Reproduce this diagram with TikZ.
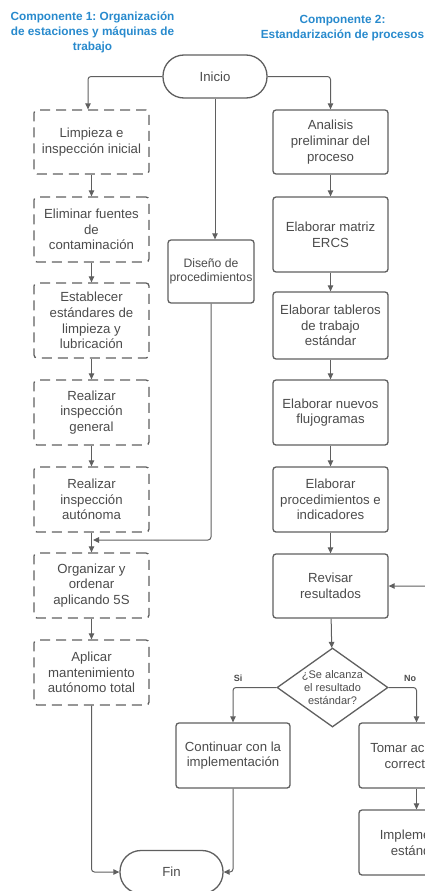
\documentclass[tikz,border=0pt]{standalone}
\usepackage{fontspec}
\setmainfont{Liberation Sans}
\usetikzlibrary{arrows.meta,shapes.geometric}
\definecolor{lin}{RGB}{95,95,95}
\definecolor{txt}{RGB}{75,75,75}
\definecolor{ttl}{RGB}{40,138,205}
\frenchspacing
\begin{document}
\begin{tikzpicture}[x=1pt,y=-1pt,
  base/.style={draw=lin, line width=1.3pt, text=txt, align=center, inner sep=2pt,
    font=\fontsize{13.2}{15.7}\selectfont},
  solidbox/.style={base, rectangle, rounded corners=3pt},
  dashbox/.style={base, rectangle, rounded corners=3pt, dash pattern=on 10pt off 6pt,
    minimum width=115pt},
  term/.style={base, rectangle, rounded corners=21pt, minimum width=104pt, minimum height=43pt},
  dec/.style={base, diamond, aspect=1.4, inner sep=0pt, minimum width=111pt, minimum height=79pt,
    font=\fontsize{11}{13}\selectfont},
  arr/.style={draw=lin, line width=1pt, rounded corners=3pt, -{Triangle[length=6pt,width=5.5pt]}},
  title/.style={text=ttl, align=center, font=\fontsize{11.8}{15}\selectfont\bfseries},
  lab/.style={text=txt, font=\fontsize{9}{10}\selectfont\bfseries}
]
\useasboundingbox (0,0) rectangle (425,891);
\clip (0,0) rectangle (425,891);

\node[title] (t1) at (92.5,32) {Componente 1: Organización\\de estaciones y máquinas de\\trabajo};
\node[title] (t2) at (342.5,28.5) {Componente 2:\\Estandarización de procesos};

\node[term] (ini) at (215,76.5) {Inicio};

\node[dashbox, minimum height=64pt] (b1) at (91.5,142) {Limpieza e\\inspección inicial};
\node[dashbox, minimum height=65pt] (b2) at (91.5,229.5) {Eliminar fuentes\\de\\contaminación};
\node[dashbox, minimum height=75pt] (b3) at (91.5,320.5) {Establecer\\estándares de\\limpieza y\\lubricación};
\node[dashbox, minimum height=65pt] (b4) at (91.5,412.5) {Realizar\\inspección\\general};
\node[dashbox, minimum height=65pt] (b5) at (91.5,499.5) {Realizar\\inspección\\autónoma};
\node[dashbox, minimum height=65pt] (b6) at (91.5,585.5) {Organizar y\\ordenar\\aplicando 5S};
\node[dashbox, minimum height=65pt] (b7) at (91.5,672.5) {Aplicar\\mantenimiento\\autónomo total};

\node[solidbox, minimum width=86pt, minimum height=63pt, inner sep=1pt, font=\fontsize{12.2}{14}\selectfont] (dis) at (211,271.5) {Diseño de\\procedimientos};

\node[solidbox, minimum width=115pt, minimum height=64pt] (r1) at (330.5,142) {Analisis\\preliminar del\\proceso};
\node[solidbox, minimum width=115pt, minimum height=75pt] (r2) at (330.5,234.5) {Elaborar matriz\\ERCS};
\node[solidbox, minimum width=115pt, minimum height=67pt] (r3) at (330.5,325.5) {Elaborar tableros\\de trabajo\\estándar};
\node[solidbox, minimum width=115pt, minimum height=65pt] (r4) at (330.5,412.5) {Elaborar nuevos\\flujogramas};
\node[solidbox, minimum width=115pt, minimum height=65pt] (r5) at (330.5,499.5) {Elaborar\\procedimientos e\\indicadores};
\node[solidbox, minimum width=115pt, minimum height=64pt] (r6) at (330.5,586) {Revisar\\resultados};

\node[dec] (d) at (332.5,687.5) {¿Se alcanza\\el resultado\\estándar?};

\node[solidbox, minimum width=114pt, minimum height=65pt] (cont) at (233,755.5) {Continuar con la\\implementación};
\node[solidbox, minimum width=115pt, minimum height=65pt] (tom) at (416.5,755.5) {Tomar acciones\\correctivas};
\node[solidbox, minimum width=115pt, minimum height=65pt] (imp) at (416.5,842.5) {Implementar\\estándar};

\node[term, minimum width=103pt] (fin) at (171.5,872) {Fin};

\node[lab] (si) at (238,678) {Si};
\node[lab] (no) at (410,678) {No};

% connectors
\draw[arr] (ini.west) -| ([xshift=-3.5pt]b1.north);
\draw[arr] (ini.east) -| (r1.north);
\draw[arr] (ini.south) -- (ini.south |- dis.north);
\draw[arr] (b1) -- (b2);
\draw[arr] (b2) -- (b3);
\draw[arr] (b3) -- (b4);
\draw[arr] (b4) -- (b5);
\draw[arr] (b5) -- (b6);
\draw[arr] (b6) -- (b7);
\coordinate (j) at (93,540);
\draw[arr] (dis.south) |- (j);
\draw[arr] (b7.south) |- (fin.west);
\draw[arr] (cont.south) |- (fin.east);
\draw[arr] (r1) -- (r2);
\draw[arr] (r2) -- (r3);
\draw[arr] (r3) -- (r4);
\draw[arr] (r4) -- (r5);
\draw[arr] (r5) -- (r6);
\draw[arr] (r6) -- (d);
\draw[arr] (d.west) -| (cont.north);
\draw[arr] (d.east) -| (tom.north);
\draw[arr] (tom) -- (imp);
\draw[arr] (imp.east) -- ++(15,0) |- (r6.east);
\end{tikzpicture}
\end{document}
